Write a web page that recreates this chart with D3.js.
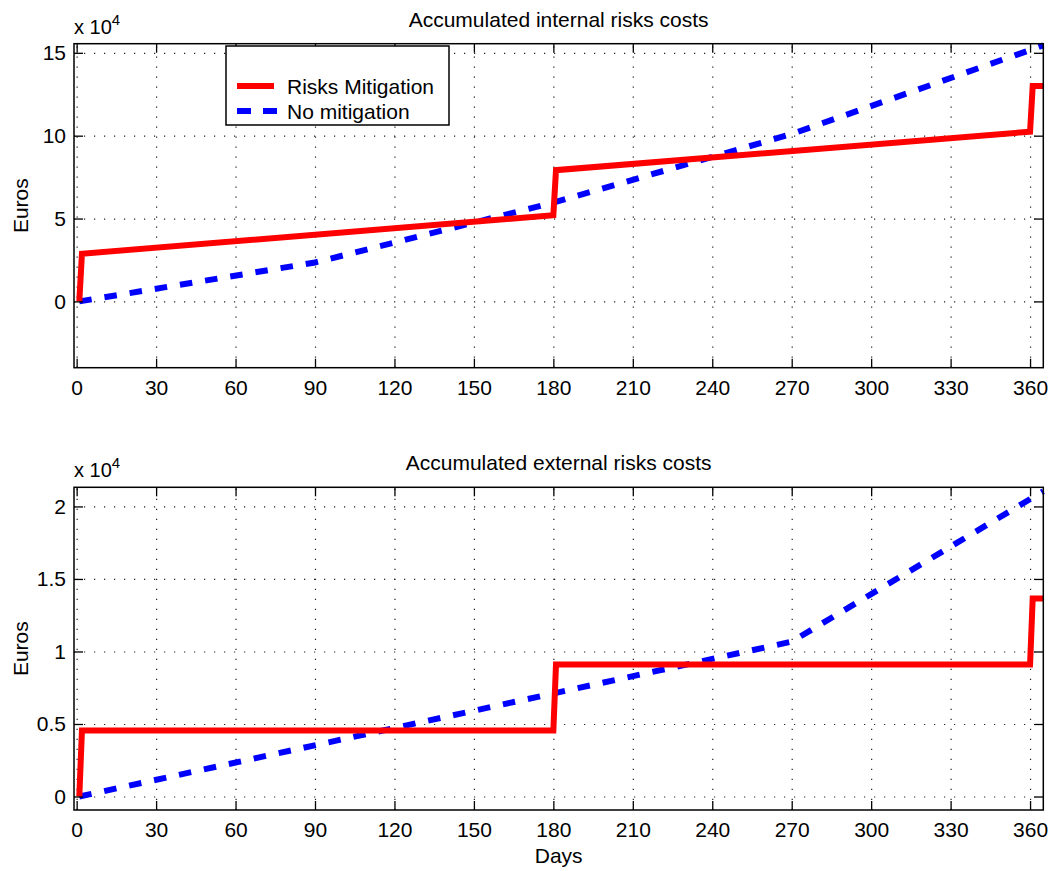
<!DOCTYPE html>
<html>
<head>
<meta charset="utf-8">
<script src="https://cdn.jsdelivr.net/npm/d3@7/dist/d3.min.js"></script>
<style>
  body { margin: 0; background: #fff; }
  text { font-family: "Liberation Sans", Arial, Helvetica, sans-serif; fill: #000; }
</style>
</head>
<body>
<div id="chart"></div>
<script>
// ticks
var dayTicks = [0, 30, 60, 90, 120, 150, 180, 210, 240, 270, 300, 330, 360];
var internalTicks = [0, 50000, 100000, 150000];
var externalTicks = [0, 5000, 10000, 15000, 20000];

// series (day, euros)
var internalMitigationDays = [1, 2, 180, 181, 360, 361, 365];
var internalMitigation = [0, 28800, 52000, 79200, 102400, 130000, 130000];
var internalNoMitigationDays = [1, 90, 180, 270, 365];
var internalNoMitigation = [0, 23500, 59600, 101000, 154500];

var externalMitigationDays = [1, 2, 180, 181, 360, 361, 365];
var externalMitigation = [0, 4550, 4550, 9100, 9100, 13650, 13650];
var externalNoMitigationDays = [1, 270, 365];
var externalNoMitigation = [0, 10680, 21050];

var seriesNames = ["Risks Mitigation", "No mitigation"];

var svgWidth = 1055, svgHeight = 871;
var svg = d3.select("#chart").append("svg")
  .attr("width", svgWidth)
  .attr("height", svgHeight);

var left = 74, right = 1043.3;
var x = d3.scaleLinear().domain([-1, 365]).range([left, right]);

var fmt = function(d) { return String(d / 10000); };

function drawPanel(p) {
  var y = d3.scaleLinear().domain(p.yDomain).range([p.bottom, p.top]);
  var h = p.bottom - p.top;
  var g = svg.append("g");

  // dotted grid
  var gx = g.append("g")
    .attr("transform", `translate(0, ${p.bottom})`)
    .call(d3.axisBottom(x).tickValues(dayTicks).tickSize(-h).tickFormat(""));
  var gy = g.append("g")
    .attr("transform", `translate(${left}, 0)`)
    .call(d3.axisLeft(y).tickValues(p.yTicks).tickSize(-(right - left)).tickFormat(""));
  [gx, gy].forEach(function(a) {
    a.select(".domain").remove();
    a.selectAll("line")
      .attr("stroke", "#222")
      .attr("stroke-width", 1.2)
      .attr("stroke-dasharray", "1.2,8.8");
  });

  var line = d3.line()
    .x(d => x(d[0]))
    .y(d => y(d[1]));

  g.append("path")
    .datum(d3.zip(p.noMitDays, p.noMit))
    .attr("d", line)
    .attr("fill", "none")
    .attr("stroke", "#0000ff")
    .attr("stroke-width", 6)
    .attr("stroke-dasharray", "12.5,13");

  g.append("path")
    .datum(d3.zip(p.mitDays, p.mit))
    .attr("d", line)
    .attr("fill", "none")
    .attr("stroke", "#ff0000")
    .attr("stroke-width", 6)
    .attr("stroke-linejoin", "miter");

  // axes with inside ticks
  var ax = g.append("g")
    .attr("transform", `translate(0, ${p.bottom})`)
    .call(d3.axisBottom(x).tickValues(dayTicks).tickSizeInner(-9).tickSizeOuter(0).tickPadding(12));
  var axTop = g.append("g")
    .attr("transform", `translate(0, ${p.top})`)
    .call(d3.axisTop(x).tickValues(dayTicks).tickSizeInner(-9).tickSizeOuter(0).tickFormat(""));
  var ay = g.append("g")
    .attr("transform", `translate(${left}, 0)`)
    .call(d3.axisLeft(y).tickValues(p.yTicks).tickSizeInner(-9).tickSizeOuter(0).tickPadding(8).tickFormat(fmt));
  var ayRight = g.append("g")
    .attr("transform", `translate(${right}, 0)`)
    .call(d3.axisRight(y).tickValues(p.yTicks).tickSizeInner(-9).tickSizeOuter(0).tickFormat(""));
  [ax, axTop, ay, ayRight].forEach(function(a) {
    a.select(".domain").remove();
    a.selectAll("line").attr("stroke", "#000").attr("stroke-width", 1.3);
    a.selectAll("text").attr("font-size", 21).attr("fill", "#000");
  });

  g.append("rect")
    .attr("x", left).attr("y", p.top)
    .attr("width", right - left).attr("height", h)
    .attr("fill", "none")
    .attr("stroke", "#000")
    .attr("stroke-width", 1.5);

  // exponent
  var ex = g.append("text")
    .attr("x", left)
    .attr("y", p.top - 10)
    .attr("font-size", 20);
  ex.append("tspan").text("x 10");
  ex.append("tspan").attr("font-size", 15).attr("dy", -9).text("4");

  g.append("text")
    .attr("x", (left + right) / 2)
    .attr("y", p.top - 17)
    .attr("text-anchor", "middle")
    .attr("font-size", 21)
    .text(p.title);

  g.append("text")
    .attr("transform", `translate(28, ${(p.top + p.bottom) / 2}) rotate(-90)`)
    .attr("text-anchor", "middle")
    .attr("font-size", 21)
    .text("Euros");

  if (p.xLabel) {
    g.append("text")
      .attr("x", (left + right) / 2)
      .attr("y", p.bottom + 53)
      .attr("text-anchor", "middle")
      .attr("font-size", 21)
      .text(p.xLabel);
  }

  if (p.legend) {
    var lg = g.append("g");
    lg.append("rect")
      .attr("x", 226).attr("y", 46)
      .attr("width", 223).attr("height", 79)
      .attr("fill", "#fff")
      .attr("stroke", "#000")
      .attr("stroke-width", 1.5);
    lg.append("line")
      .attr("x1", 237).attr("x2", 274).attr("y1", 86).attr("y2", 86)
      .attr("stroke", "#ff0000").attr("stroke-width", 6);
    lg.append("line")
      .attr("x1", 237).attr("x2", 278).attr("y1", 111).attr("y2", 111)
      .attr("stroke", "#0000ff").attr("stroke-width", 6)
      .attr("stroke-dasharray", "14,12");
    lg.selectAll("text.leg")
      .data(seriesNames)
      .enter()
      .append("text")
      .attr("class", "leg")
      .attr("x", 287)
      .attr("y", (d, i) => 94 + i * 24.5)
      .attr("font-size", 21)
      .text(d => d);
  }
}

drawPanel({
  top: 43.7, bottom: 367.7,
  yDomain: [-40000, 155500],
  yTicks: internalTicks,
  title: "Accumulated internal risks costs",
  mitDays: internalMitigationDays, mit: internalMitigation,
  noMitDays: internalNoMitigationDays, noMit: internalNoMitigation,
  legend: true
});

drawPanel({
  top: 487.3, bottom: 810,
  yDomain: [-930, 21320],
  yTicks: externalTicks,
  title: "Accumulated external risks costs",
  mitDays: externalMitigationDays, mit: externalMitigation,
  noMitDays: externalNoMitigationDays, noMit: externalNoMitigation,
  xLabel: "Days"
});
</script>
</body>
</html>
